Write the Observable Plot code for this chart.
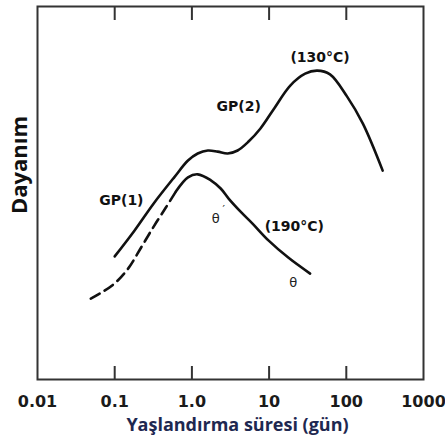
<!DOCTYPE html>
<html>
<head>
<meta charset="utf-8">
<script src="https://cdn.jsdelivr.net/npm/d3@7"></script>
<script src="https://cdn.jsdelivr.net/npm/@observablehq/plot@0.6"></script>
<style>
  html, body { margin: 0; padding: 0; background: #fff; overflow: hidden; }
</style>
</head>
<body>
<div id="chart"></div>
<script>
// Aging time (days) and relative strength, 130°C curve
const time130 = [0.1, 0.18, 0.32, 0.59, 0.89, 1.19, 1.61, 2.16, 2.91, 3.91, 5.42, 7.73, 11.4, 18.8, 29.3, 41.9, 61.5, 102, 164, 296];
const strength130 = [33.0, 39.9, 47.2, 54.2, 58.7, 60.6, 61.4, 61.1, 60.6, 61.4, 63.8, 67.3, 72.4, 78.8, 82.0, 82.8, 81.8, 75.9, 68.6, 56.0];

// 190°C curve, dashed (early) part
const time190Dash = [0.049, 0.067, 0.099, 0.15, 0.22, 0.32, 0.46, 0.62];
const strength190Dash = [21.7, 23.3, 25.7, 29.8, 35.4, 41.0, 46.1, 50.4];

// 190°C curve, solid part
const time190 = [0.62, 0.89, 1.19, 1.76, 2.36, 2.99, 4.27, 6.1, 9.8, 17.7, 34];
const strength190 = [50.4, 54.2, 55.0, 53.4, 51.2, 48.5, 45.0, 41.8, 37.3, 32.7, 28.4];

// Axis ticks
const tickValues = [0.01, 0.1, 1, 10, 100, 1000];
const tickLabels = ["0.01", "0.1", "1.0", "10", "100", "1000"];
const innerTicks = [0.1, 1, 10, 100];

// Annotations
const boldNotes = ["(130°C)", "GP(2)", "GP(1)", "(190°C)"];
const boldNoteX = [45.7, 4.03, 0.122, 21.2];
const boldNoteY = [86.3, 73.2, 48.0, 41.0];
const thetaNotes = ["θ", "θ"];
const thetaX = [2.04, 20.6];
const thetaY = [43.2, 26.0];
const primeNotes = ["′"];
const primeX = [2.04];
const primeY = [43.2];

const xLabel = "Yaşlandırma süresi (gün)";
const yLabel = "Dayanım";

const line130 = time130.map((t, i) => ({t, s: strength130[i]}));
const line190d = time190Dash.map((t, i) => ({t, s: strength190Dash[i]}));
const line190 = time190.map((t, i) => ({t, s: strength190[i]}));
const bold = boldNotes.map((text, i) => ({text, t: boldNoteX[i], s: boldNoteY[i]}));
const thetas = thetaNotes.map((text, i) => ({text, t: thetaX[i], s: thetaY[i]}));
const primes = primeNotes.map((text, i) => ({text, t: primeX[i], s: primeY[i]}));

const labelFmt = d => tickLabels[tickValues.indexOf(d)];

const chart = Plot.plot({
  width: 445,
  height: 439,
  marginLeft: 37,
  marginRight: 22,
  marginTop: 6,
  marginBottom: 60,
  style: {background: "#fff", color: "#222"},
  x: {type: "log", domain: [0.01, 1000]},
  y: {domain: [0, 100], axis: null},
  marks: [
    Plot.frame({stroke: "#333", strokeWidth: 2}),
    Plot.axisX(innerTicks, {anchor: "top", tickSize: -13, fill: "none", stroke: "#333", strokeWidth: 2, label: null}),
    Plot.axisX(innerTicks, {anchor: "bottom", tickSize: -13, fill: "none", stroke: "#333", strokeWidth: 2, label: null}),
    Plot.axisX(tickValues, {anchor: "bottom", tickSize: 0, tickPadding: 16, tickFormat: labelFmt, label: null,
      fontSize: 16, fontWeight: "bold", fontFamily: "DejaVu Sans", fill: "#1a1a1a"}),
    Plot.line(line130, {x: "t", y: "s", curve: "catmull-rom", stroke: "#111", strokeWidth: 2.6}),
    Plot.line(line190d, {x: "t", y: "s", curve: "catmull-rom", stroke: "#111", strokeWidth: 2.6, strokeDasharray: "10,6"}),
    Plot.line(line190, {x: "t", y: "s", curve: "catmull-rom", stroke: "#111", strokeWidth: 2.6}),
    Plot.text(bold, {x: "t", y: "s", text: "text", fontSize: 14, fontWeight: "bold", fontFamily: "DejaVu Sans", fill: "#111"}),
    Plot.text(thetas, {x: "t", y: "s", text: "text", fontSize: 13, fontFamily: "DejaVu Sans", fill: "#222"}),
    Plot.text(primes, {x: "t", y: "s", text: "text", dx: 8, dy: -9, fontSize: 11, fontFamily: "DejaVu Sans", fill: "#222"}),
    Plot.text([xLabel], {frameAnchor: "bottom", text: d => d, dx: 7, dy: 51, fontSize: 18, fontWeight: "bold",
      fontFamily: "Open Sans", fill: "#1e2850"}),
    Plot.text([yLabel], {frameAnchor: "left", text: d => d, rotate: -90, textAnchor: "middle", dx: -18, dy: -28, fontSize: 22, fontWeight: "bold",
      fontFamily: "Open Sans", fill: "#111"})
  ]
});
document.getElementById("chart").appendChild(chart);
</script>
</body>
</html>
